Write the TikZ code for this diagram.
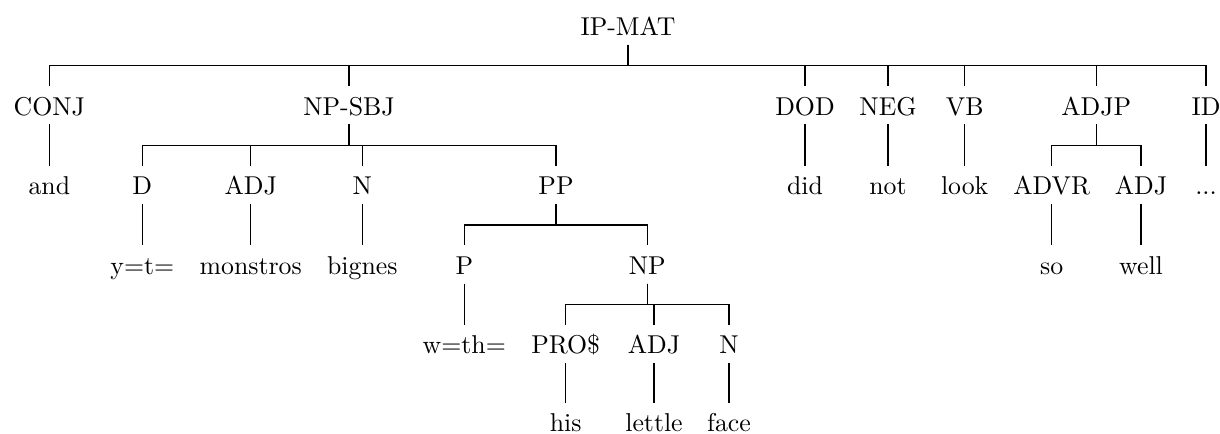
\documentclass[tikz,border=0pt]{standalone}
\begin{document}
\begin{tikzpicture}[x=0.3876pt,y=-0.3876pt,
  lab/.style={anchor=base,text height=7.8pt,text depth=0pt,inner sep=3.33pt},
  br/.style={line width=0.4pt}]
\useasboundingbox (0,0) rectangle (1220,434);
\def\La{35.7}\def\Lb{115.3}\def\Lc{194.8}\def\Ld{274.4}\def\Le{354}\def\Lf{432}
% level 0
\node[lab] (ip) at (628,\La) {IP-MAT};
% level 1
\node[lab] (conj) at (49.3,\Lb) {CONJ};
\node[lab] (npsbj) at (349,\Lb) {NP-SBJ};
\node[lab] (dod) at (805,\Lb) {DOD};
\node[lab] (neg) at (888,\Lb) {NEG};
\node[lab] (vb) at (964.7,\Lb) {VB};
\node[lab] (adjp) at (1096.3,\Lb) {ADJP};
\node[lab] (id) at (1206,\Lb) {ID};
% level 2
\node[lab] (and) at (49.3,\Lc) {and};
\node[lab] (d) at (142.3,\Lc) {D};
\node[lab] (adja) at (250.7,\Lc) {ADJ};
\node[lab] (na) at (362.3,\Lc) {N};
\node[lab] (pp) at (556,\Lc) {PP};
\node[lab] (did) at (805,\Lc) {did};
\node[lab] (not) at (888,\Lc) {not};
\node[lab] (look) at (964.7,\Lc) {look};
\node[lab] (advr) at (1051.7,\Lc) {ADVR};
\node[lab] (adjb) at (1141,\Lc) {ADJ};
\node[lab] (dots) at (1206,\Lc) {...};
% level 3
\node[lab] (yt) at (142.3,\Ld) {y=t=};
\node[lab] (mon) at (250.7,\Ld) {monstros};
\node[lab] (big) at (362.3,\Ld) {bignes};
\node[lab] (p) at (464.3,\Ld) {P};
\node[lab] (np) at (647.3,\Ld) {NP};
\node[lab] (so) at (1051.7,\Ld) {so};
\node[lab] (well) at (1141,\Ld) {well};
% level 4
\node[lab] (wth) at (464.3,\Le) {w=th=};
\node[lab] (pro) at (565.7,\Le) {PRO\$};
\node[lab] (adjc) at (654,\Le) {ADJ};
\node[lab] (nb) at (729,\Le) {N};
% level 5
\node[lab] (his) at (565.7,\Lf) {his};
\node[lab] (let) at (654,\Lf) {lettle};
\node[lab] (face) at (729,\Lf) {face};
% edges
\foreach \pa/\ch in {ip/conj,ip/npsbj,ip/dod,ip/neg,ip/vb,ip/adjp,ip/id,
  conj/and,npsbj/d,npsbj/adja,npsbj/na,npsbj/pp,dod/did,neg/not,vb/look,
  adjp/advr,adjp/adjb,id/dots,
  d/yt,adja/mon,na/big,pp/p,pp/np,advr/so,adjb/well,
  p/wth,np/pro,np/adjc,np/nb}
  \draw[br] (\pa.south) -- ++(0,21.1) -| (\ch.north);
\foreach \pa/\ch in {pro/his,adjc/let,nb/face}
  \draw[br] (\pa.south) -- (\ch.north);
\end{tikzpicture}
\end{document}
